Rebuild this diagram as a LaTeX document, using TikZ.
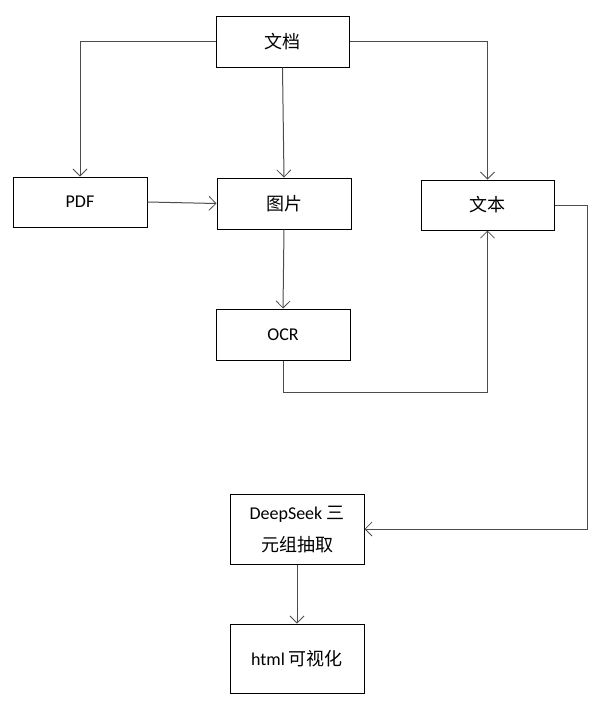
\documentclass[tikz,border=0pt]{standalone}
\usepackage{fontspec}
\setmainfont{Carlito}
\newfontfamily\cjk{Noto Sans CJK SC}
\usetikzlibrary{arrows.meta}
\begin{document}
\begin{tikzpicture}[x=1pt,y=-1pt,
  box/.style={draw=black,line width=1pt,rectangle,inner sep=0pt,align=center,font=\fontsize{18}{34}\selectfont},
  conn/.style={draw=black!70,line width=1pt,-{Straight Barb[length=7pt,width=14pt,line width=0.8pt]}}]
\useasboundingbox (0,0) rectangle (611,710);
\node[box,minimum width=133pt,minimum height=51pt] (doc) at (282.5,41.5) {\cjk 文档};
\node[box,minimum width=134pt,minimum height=50pt] (pdf) at (80,202) {PDF};
\node[box,minimum width=134pt,minimum height=51pt] (pic) at (284,203.5) {\cjk 图片};
\node[box,minimum width=133pt,minimum height=50pt] (txt) at (487.5,205) {\cjk 文本};
\node[box,minimum width=134pt,minimum height=51pt] (ocr) at (283,334.5) {OCR};
\node[box,minimum width=134pt,minimum height=70pt,font=\fontsize{18}{32}\selectfont,text depth=0pt] (ds) at (297,529) {DeepSeek {\cjk 三}\\{\cjk 元组抽取}};
\node[box,minimum width=134pt,minimum height=69pt] (html) at (297,658.5) {html {\cjk 可视化}};
\draw[conn] (doc.west) -| (pdf.north);
\draw[conn] (doc.east) -| (txt.north);
\draw[conn] (doc.south) -- (pic.north);
\draw[conn] (pdf.east) -- (pic.west);
\draw[conn] (pic.south) -- (ocr.north);
\draw[conn] (ocr.south) -- ++(0,32) -| (txt.south);
\draw[conn] (txt.east) -- ++(33,0) |- (ds.east);
\draw[conn] (ds.south) -- (html.north);
\end{tikzpicture}
\end{document}
